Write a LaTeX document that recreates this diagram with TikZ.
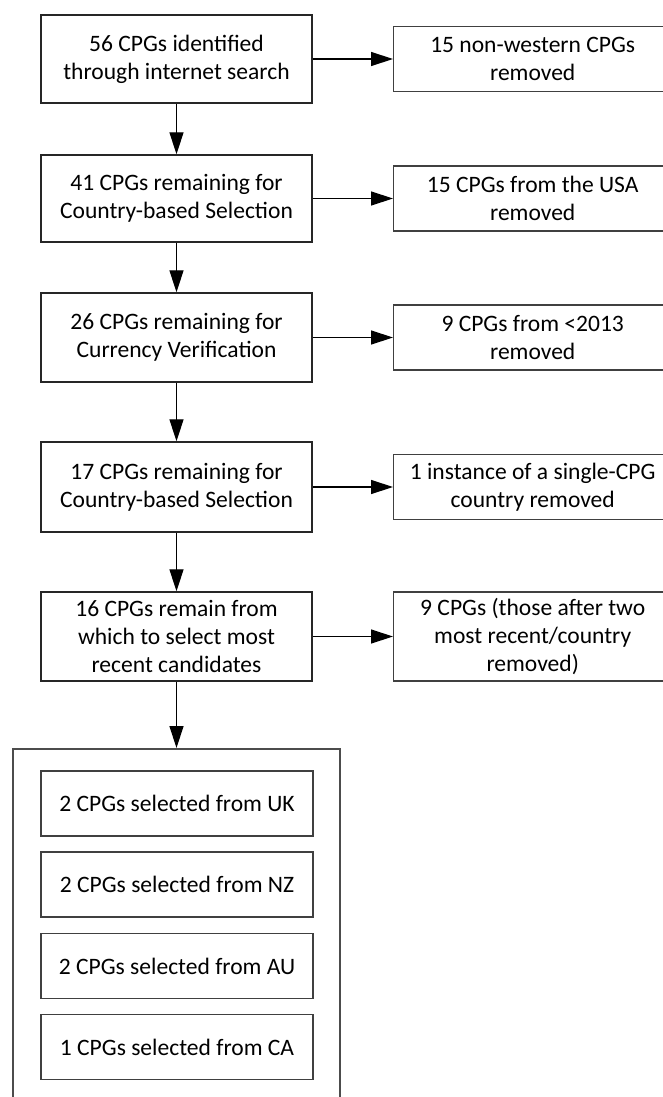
\documentclass[tikz,border=0pt]{standalone}
\usepackage{fontspec}
\setmainfont{Carlito}
\usetikzlibrary{positioning,arrows.meta}

\begin{document}
\begin{tikzpicture}[
    stagebox/.style={draw=black!85, line width=0.8pt, minimum width=5.42cm, align=center, inner sep=0pt, font=\fontsize{13.4}{15.9}\selectfont},
    dropbox/.style={stagebox, draw=black!75, minimum width=5.56cm, minimum height=1.30cm, anchor=west},
    pickbox/.style={stagebox, draw=black!75, minimum width=5.44cm, minimum height=1.30cm},
    flow/.style={-{Triangle[length=0.44cm,width=0.28cm]}, line width=0.75pt}
]
    \useasboundingbox (0,0) rectangle (13.26,-21.94);

    % Main stages
    \node (s1) [stagebox, minimum height=1.76cm] at (3.53,-1.18) {56 CPGs identified\\through internet search};
    \node (s2) [stagebox, minimum height=1.74cm] at (3.53,-3.97) {41 CPGs remaining for\\Country-based Selection};
    \node (s3) [stagebox, minimum height=1.78cm] at (3.53,-6.75) {26 CPGs remaining for\\Currency Verification};
    \node (s4) [stagebox, minimum height=1.80cm] at (3.53,-9.74) {17 CPGs remaining for\\Country-based Selection};
    \node (s5) [stagebox, minimum height=1.78cm] at (3.53,-12.73) {16 CPGs remain from\\which to select most\\recent candidates};

    % Removed CPGs (right edge runs off the page)
    \node (r1) [dropbox] at (7.86,-1.18) {15 non-western CPGs\\removed};
    \node (r2) [dropbox] at (7.86,-3.97) {15 CPGs from the USA\\removed};
    \node (r3) [dropbox] at (7.86,-6.75) {9 CPGs from <2013\\removed};
    \node (r4) [dropbox] at (7.86,-9.74) {1 instance of a single-CPG\\country removed};
    \node (r5) [dropbox, minimum height=1.78cm] at (7.86,-12.73) {9 CPGs (those after two\\most recent/country\\removed)};

    % Final selection
    \node (pool) [draw=black!70, line width=1pt, minimum width=6.54cm, minimum height=8cm, anchor=north] at (3.53,-14.96) {};
    \node (uk) [pickbox] at (3.54,-16.07) {2 CPGs selected from UK};
    \node (nz) [pickbox] at (3.54,-17.69) {2 CPGs selected from NZ};
    \node (au) [pickbox] at (3.54,-19.32) {2 CPGs selected from AU};
    \node (ca) [pickbox] at (3.54,-20.94) {1 CPGs selected from CA};

    % Arrows
    \draw [flow] (s1) -- (s2);
    \draw [flow] (s2) -- (s3);
    \draw [flow] (s3) -- (s4);
    \draw [flow] (s4) -- (s5);
    \draw [flow] (s5) -- (pool.north);
    \draw [flow] (s1) -- (r1);
    \draw [flow] (s2) -- (r2);
    \draw [flow] (s3) -- (r3);
    \draw [flow] (s4) -- (r4);
    \draw [flow] (s5) -- (r5);
\end{tikzpicture}
\end{document}
